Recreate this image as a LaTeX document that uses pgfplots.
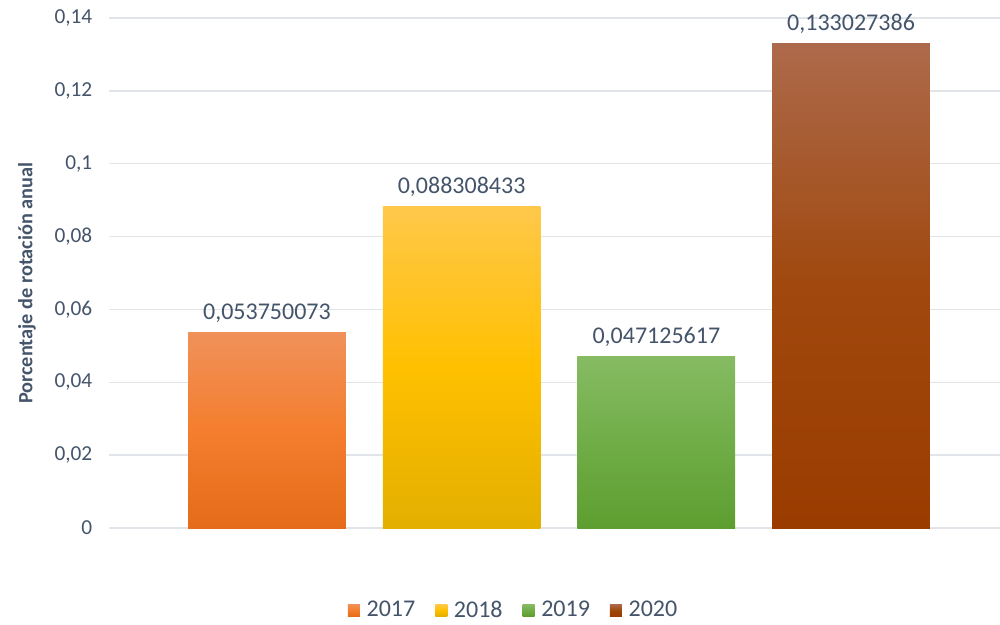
\documentclass[border=0pt]{standalone}
\usepackage{pgfplots}
\pgfplotsset{compat=1.18}
\usepackage{fontspec}
\setmainfont{Carlito}

\definecolor{txt}{HTML}{44546A}
\definecolor{gridc}{HTML}{E1E4E9}
\definecolor{c17t}{HTML}{F0915A}
\definecolor{c17m}{HTML}{F47E2E}
\definecolor{c17b}{HTML}{E46C1A}
\definecolor{c18t}{HTML}{FFC84A}
\definecolor{c18m}{HTML}{FFC000}
\definecolor{c18b}{HTML}{E3AF00}
\definecolor{c19t}{HTML}{86BB63}
\definecolor{c19m}{HTML}{70AD47}
\definecolor{c19b}{HTML}{5E9E30}
\definecolor{c20t}{HTML}{AD6A4B}
\definecolor{c20m}{HTML}{A0480E}
\definecolor{c20b}{HTML}{9A3C00}

\begin{document}
\begin{tikzpicture}
% picture frame: 1px = 0.75pt
\path[use as bounding box] (-81.75pt,-72.75pt) rectangle (668.25pt,396pt);
\begin{axis}[
  scale only axis,
  width=668.25pt, height=382.5pt,
  at={(0,0)}, anchor=south west,
  ybar, bar width=0.81,
  xmin=-0.811, xmax=3.765,
  ymin=0, ymax=0.14,
  ytick={0,0.02,...,0.14},
  xtick=\empty,
  ymajorgrids,
  grid style={draw=gridc, line width=1.1pt},
  axis line style={draw=none},
  major tick length=0pt,
  clip=false,
  font=\fontsize{18pt}{21pt}\selectfont,
  /pgf/number format/assume math mode=true,
  yticklabel style={text=txt, font=\fontsize{16pt}{19pt}\selectfont,
    /pgf/number format/.cd, use comma, fixed, precision=2},
  yticklabel shift=9pt,
  ylabel={Porcentaje de rotación anual},
  ylabel style={text=txt, font=\fontsize{15.2pt}{18pt}\selectfont\bfseries,
    at={(axis description cs:-0.092,0.48)}, anchor=center},
  nodes near coords,
  every node near coord/.append style={text=txt, yshift=4pt},
  legend style={draw=none, text=txt, legend columns=4,
    at={(axis description cs:0.4545,-0.161)}, anchor=center,
    /tikz/every odd column/.append style={column sep=3pt},
    /tikz/every even column/.append style={column sep=13pt}},
  legend image code/.code={\path[#1, draw=none] (0pt,-4.5pt) rectangle (9pt,4.5pt);},
]
\addplot[bar shift=0pt, draw=none, top color=c17t, bottom color=c17b, middle color=c17m,
  nodes near coords={0,053750073}] coordinates {(0,0.053750073)};
\addplot[bar shift=0pt, draw=none, top color=c18t, bottom color=c18b, middle color=c18m,
  nodes near coords={0,088308433}] coordinates {(1,0.088308433)};
\addplot[bar shift=0pt, draw=none, top color=c19t, bottom color=c19b, middle color=c19m,
  nodes near coords={0,047125617}] coordinates {(2,0.047125617)};
\addplot[bar shift=0pt, draw=none, top color=c20t, bottom color=c20b, middle color=c20m,
  nodes near coords={0,133027386}] coordinates {(3,0.133027386)};
\legend{2017,2018,2019,2020}
\end{axis}
\end{tikzpicture}
\end{document}
